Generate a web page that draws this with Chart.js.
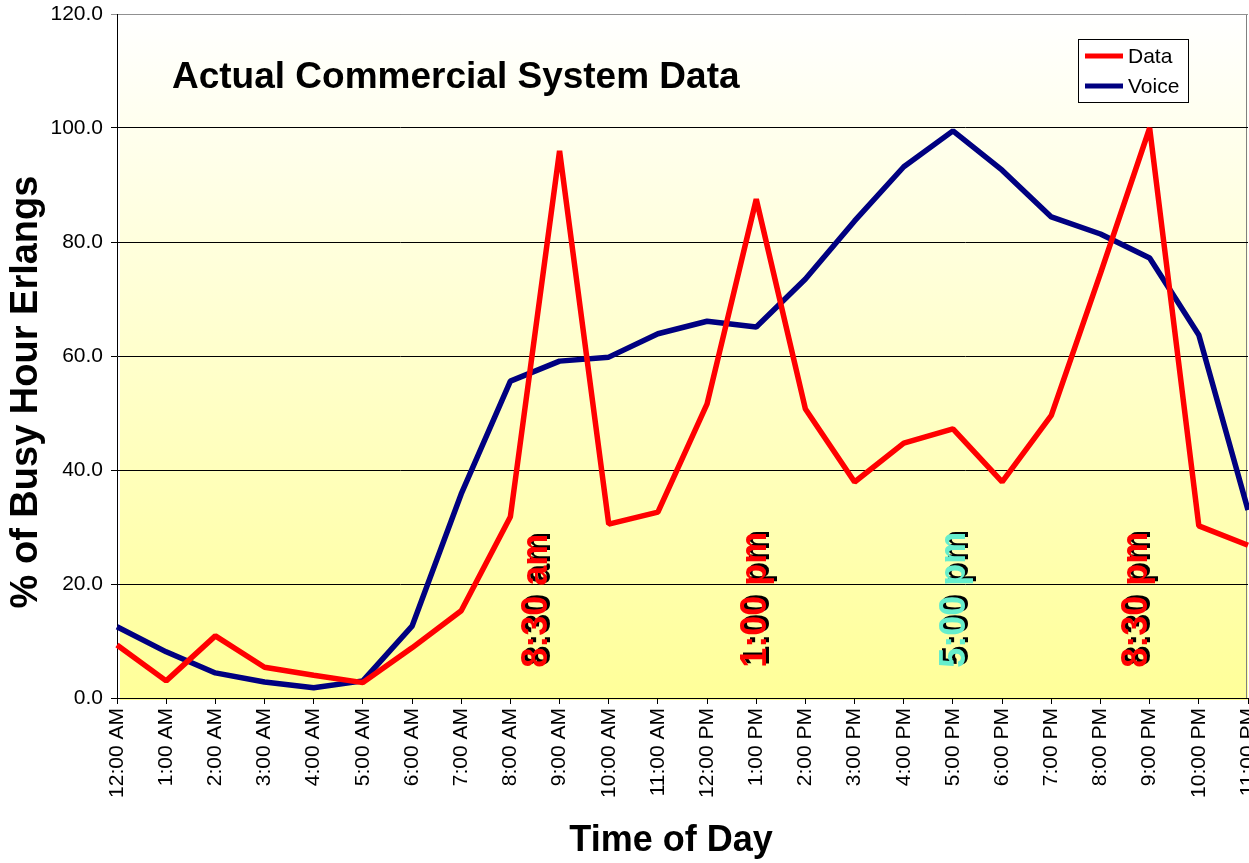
<!DOCTYPE html>
<html><head><meta charset="utf-8">
<script src="https://cdn.jsdelivr.net/npm/chart.js@4.4.1/dist/chart.umd.min.js"></script>
<style>
html,body{margin:0;padding:0;overflow:hidden;background:#fff;width:1249px;height:863px}
#wrap{position:absolute;left:0;top:0;width:1290px;height:863px}
</style></head><body><div id="wrap"><canvas id="c" width="1290" height="863"></canvas></div>
<script>
const categories = ['12:00 AM','1:00 AM','2:00 AM','3:00 AM','4:00 AM','5:00 AM','6:00 AM','7:00 AM','8:00 AM','9:00 AM','10:00 AM','11:00 AM','12:00 PM','1:00 PM','2:00 PM','3:00 PM','4:00 PM','5:00 PM','6:00 PM','7:00 PM','8:00 PM','9:00 PM','10:00 PM','11:00 PM'];
const dataSeries  = [9.3, 3.0, 10.9, 5.4, 4.0, 2.7, 8.8, 15.3, 31.8, 96.0, 30.5, 32.6, 51.6, 87.5, 50.7, 37.9, 44.7, 47.2, 37.9, 49.6, 74.5, 100.0, 30.2, 26.8];
const voiceSeries = [12.5, 8.1, 4.4, 2.8, 1.8, 3.0, 12.6, 35.8, 55.6, 59.1, 59.8, 63.9, 66.1, 65.1, 73.5, 83.7, 93.2, 99.5, 92.6, 84.4, 81.4, 77.2, 63.7, 33.0];
const seriesNames = ['Data', 'Voice'];
const yTickValues = [0, 20, 40, 60, 80, 100, 120];
const noteLabels = ['8:30 am', '1:00 pm', '5:00 pm', '8:30 pm'];
const noteX = [8.55, 13, 17.05, 20.75];
const noteY = [5.3, 5.3, 5.3, 5.3];
const chartTitle = 'Actual Commercial System Data';
const xTitle = 'Time of Day';
const yTitle = '% of Busy Hour Erlangs';

const FONT = '"Liberation Sans", Arial, Helvetica, sans-serif';
const noteColors = ['#FF0000', '#FF0000', '#66EECC', '#FF0000'];

const bgPlugin = {
  id: 'bg',
  beforeDraw(chart) {
    const {ctx, chartArea: a} = chart;
    const g = ctx.createLinearGradient(0, a.top, 0, a.bottom);
    g.addColorStop(0, '#FFFFFF');
    g.addColorStop(1, '#FFFF99');
    ctx.save();
    ctx.fillStyle = g;
    ctx.fillRect(a.left + 3, a.top, a.right - a.left - 3, a.bottom - a.top + 2);
    ctx.strokeStyle = '#808080';
    ctx.lineWidth = 1;
    ctx.beginPath();
    ctx.moveTo(a.left, a.top + 0.5);
    ctx.lineTo(a.right - 1.5, a.top + 0.5);
    ctx.lineTo(a.right - 1.5, a.bottom);
    ctx.stroke();
    ctx.restore();
  }
};

const notesPlugin = {
  id: 'notes',
  afterDatasetsDraw(chart) {
    const {ctx, scales} = chart;
    ctx.save();
    ctx.font = 'bold 36px ' + FONT;
    ctx.textAlign = 'left';
    ctx.textBaseline = 'middle';
    noteLabels.forEach((t, i) => {
      const x = scales.x.getPixelForValue(noteX[i]);
      const y = scales.y.getPixelForValue(noteY[i]);
      ctx.save();
      ctx.translate(x, y);
      ctx.rotate(-Math.PI / 2);
      ctx.fillStyle = '#000';
      ctx.fillText(t, 2, 3);
      ctx.fillStyle = noteColors[i];
      ctx.fillText(t, 0, 0);
      ctx.restore();
    });
    ctx.restore();
  }
};

const legendPlugin = {
  id: 'legendBox',
  afterDraw(chart) {
    const {ctx} = chart;
    ctx.save();
    ctx.fillStyle = '#fff';
    ctx.fillRect(1078.5, 39.5, 110, 63);
    ctx.strokeStyle = '#000';
    ctx.lineWidth = 1;
    ctx.strokeRect(1078.5, 39.5, 110, 63);
    ctx.font = '21px ' + FONT;
    ctx.textBaseline = 'middle';
    ctx.textAlign = 'left';
    chart.data.datasets.forEach((ds, i) => {
      const cy = 56 + i * 30;
      ctx.strokeStyle = ds.borderColor;
      ctx.lineWidth = 5;
      ctx.beginPath();
      ctx.moveTo(1085, cy);
      ctx.lineTo(1123, cy);
      ctx.stroke();
      ctx.fillStyle = '#000';
      ctx.fillText(ds.label, 1128, cy + 1);
    });
    ctx.restore();
  }
};

const titlesPlugin = {
  id: 'titles',
  afterDraw(chart) {
    const {ctx} = chart;
    ctx.save();
    ctx.fillStyle = '#000';
    ctx.font = 'bold 37px ' + FONT;
    ctx.textAlign = 'left';
    ctx.textBaseline = 'alphabetic';
    ctx.fillText(chartTitle, 172, 88);
    ctx.textAlign = 'center';
    ctx.textBaseline = 'middle';
    ctx.font = 'bold 36px ' + FONT;
    ctx.fillText(xTitle, 671, 841);
    ctx.save();
    ctx.translate(27, 392);
    ctx.rotate(-Math.PI / 2);
    ctx.font = 'bold 38px ' + FONT;
    ctx.fillText(yTitle, 0, 0);
    ctx.restore();
    ctx.restore();
  }
};

new Chart(document.getElementById('c'), {
  type: 'line',
  data: {
    labels: categories,
    datasets: [
      {label: seriesNames[0], data: dataSeries, borderColor: '#FF0000', backgroundColor: '#FF0000', borderWidth: 5.5, pointRadius: 0, tension: 0, borderJoinStyle: 'bevel', borderCapStyle: 'butt', fill: false},
      {label: seriesNames[1], data: voiceSeries, borderColor: '#000080', backgroundColor: '#000080', borderWidth: 5.5, pointRadius: 0, tension: 0, borderJoinStyle: 'bevel', borderCapStyle: 'butt', fill: false}
    ]
  },
  options: {
    responsive: false,
    animation: false,
    devicePixelRatio: 1,
    layout: {padding: {left: 0, top: 14, right: 42, bottom: 0}},
    plugins: {legend: {display: false}, tooltip: {enabled: false}, title: {display: false}},
    scales: {
      x: {
        type: 'category',
        offset: false,
        grid: {display: true, drawOnChartArea: false, drawTicks: true, tickLength: 6, color: '#000'},
        border: {display: true, color: '#000', width: 1},
        ticks: {autoSkip: false, minRotation: 90, maxRotation: 90, padding: 4, color: '#000', font: {family: FONT, size: 21}},
        afterFit(s) { s.height = 165; s.paddingLeft = 0; s.paddingRight = 0; }
      },
      y: {
        min: 0, max: 120,
        afterBuildTicks(s) { s.ticks = yTickValues.map(v => ({value: v})); },
        ticks: {padding: 8, color: '#000', font: {family: FONT, size: 21}, callback: v => Number(v).toFixed(1)},
        grid: {color: c => (c.tick && c.tick.value === 120) ? '#909090' : '#000', lineWidth: 1, tickLength: 6, drawTicks: true},
        border: {display: true, color: '#000', width: 1},
        afterFit(s) { s.width = 117; s.paddingTop = 0; s.paddingBottom = 0; }
      }
    }
  },
  plugins: [bgPlugin, notesPlugin, legendPlugin, titlesPlugin]
});
</script></body></html>
